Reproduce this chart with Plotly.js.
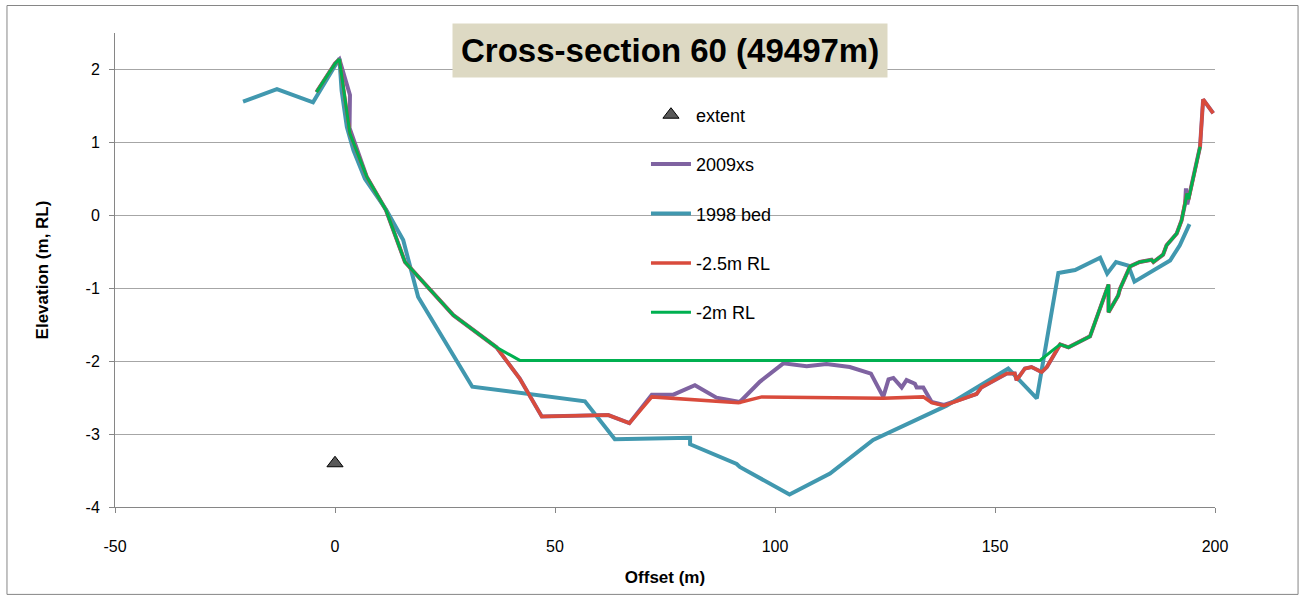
<!DOCTYPE html>
<html>
<head>
<meta charset="utf-8">
<script src="https://cdn.plot.ly/plotly-3.0.1.min.js"></script>
<style>html,body{margin:0;padding:0;background:#fff;}#chart{width:1305px;height:597px;}</style>
</head>
<body>
<div id="chart"></div>
<script>
// ---- data ----
const extentX = [0];
const extentY = [-3.40];

const xs2009X = [-4.2, 0, 1, 3.4, 3.3, 7.2, 11.6, 15.9, 26.9, 36.7, 42, 47, 62.1, 66.9, 72, 76.9, 81.8, 86.7, 92, 96.6, 101.9, 107.2, 111.7, 117, 121.8, 124.6, 125.8, 126.9, 128.8, 129.9, 131.8, 132.2, 133.7, 135.6, 138.4, 145.8, 146.9, 151.1, 152.7, 154.5, 154.9, 156.8, 158.3, 160.6, 161.8, 164.8, 166.7, 171.6, 175.8, 175.8, 178, 178.4, 180.7, 182.9, 185.6, 186, 188.2, 189, 191.3, 192.4, 193.2, 193.4, 193.7, 196.6, 197.3, 199.6];
const xs2009Y = [1.69, 2.08, 2.14, 1.65, 1.2, 0.53, 0.07, -0.64, -1.37, -1.81, -2.24, -2.76, -2.74, -2.85, -2.46, -2.46, -2.33, -2.50, -2.56, -2.28, -2.03, -2.07, -2.04, -2.08, -2.17, -2.49, -2.25, -2.23, -2.36, -2.26, -2.31, -2.36, -2.36, -2.56, -2.60, -2.45, -2.36, -2.22, -2.17, -2.17, -2.26, -2.10, -2.08, -2.15, -2.08, -1.77, -1.81, -1.66, -0.95, -1.33, -1.10, -1.01, -0.70, -0.64, -0.61, -0.64, -0.54, -0.41, -0.25, -0.07, 0.16, 0.37, 0.15, 0.94, 1.59, 1.40];

const bed1998X = [-20.9, -13.2, -5.0, 1, 1.5, 2.7, 4.2, 6.8, 11.7, 15.5, 18.9, 31.2, 56.8, 63.6, 80.7, 80.7, 91.3, 92, 103.3, 112.5, 122.3, 134.5, 139, 153, 155.3, 159.5, 164.4, 168.2, 173.9, 175.5, 177.5, 180.3, 181.7, 189.8, 192, 194.2];
const bed1998Y = [1.56, 1.73, 1.55, 2.15, 1.71, 1.21, 0.89, 0.50, 0.07, -0.34, -1.12, -2.35, -2.55, -3.07, -3.05, -3.14, -3.41, -3.45, -3.83, -3.54, -3.08, -2.74, -2.61, -2.10, -2.25, -2.51, -0.79, -0.75, -0.58, -0.80, -0.64, -0.69, -0.91, -0.62, -0.41, -0.12];

const rl25X = [-4.2, 0, 1, 3.4, 7.2, 11.6, 15.9, 26.9, 36.7, 42, 47, 62.1, 66.9, 72, 91.7, 97, 124.6, 133.7, 135.6, 138.4, 145.8, 146.9, 151.1, 152.7, 154.5, 154.9, 156.8, 158.3, 160.6, 161.8, 164.8, 166.7, 171.6, 175.8, 175.8, 178, 178.4, 180.7, 182.9, 185.6, 186, 188.2, 189, 191.3, 192.4, 193.2, 193.6, 194.0, 196.6, 197.3, 199.6];
const rl25Y = [1.69, 2.08, 2.14, 1.12, 0.53, 0.07, -0.64, -1.37, -1.81, -2.24, -2.76, -2.74, -2.85, -2.49, -2.57, -2.49, -2.51, -2.49, -2.57, -2.61, -2.45, -2.36, -2.22, -2.17, -2.17, -2.26, -2.10, -2.08, -2.15, -2.08, -1.77, -1.81, -1.66, -0.95, -1.33, -1.10, -1.01, -0.70, -0.64, -0.61, -0.64, -0.54, -0.41, -0.25, -0.07, 0.16, 0.30, 0.22, 0.94, 1.59, 1.40];

const rl2X = [-4.2, 0, 1, 3.4, 7.2, 11.6, 15.9, 26.9, 36.7, 42, 160.2, 164.8, 166.7, 171.6, 175.8, 175.8, 178, 178.4, 180.7, 182.9, 185.6, 186, 188.2, 189, 191.3, 192.4, 193.2, 193.6, 194.0, 196.6];
const rl2Y = [1.69, 2.08, 2.14, 1.12, 0.53, 0.07, -0.64, -1.37, -1.81, -1.99, -1.99, -1.77, -1.81, -1.66, -0.95, -1.33, -1.10, -1.01, -0.70, -0.64, -0.61, -0.64, -0.54, -0.41, -0.25, -0.07, 0.16, 0.30, 0.22, 0.94];

const xTicks = [-50, 0, 50, 100, 150, 200];
const yTicks = [-4, -3, -2, -1, 0, 1, 2];

const FONT = "Liberation Sans, Arial, sans-serif";

const traces = [
  {x: extentX, y: extentY, name: "extent", mode: "markers", type: "scatter", legendgroup: "a",
   marker: {symbol: "triangle-up", size: 14, color: "#595959", line: {color: "#000", width: 1}}},
  {x: xs2009X, y: xs2009Y, name: "2009xs", mode: "lines", type: "scatter", legendgroup: "b",
   line: {color: "#7F63A1", width: 4}},
  {x: bed1998X, y: bed1998Y, name: "1998 bed", mode: "lines", type: "scatter", legendgroup: "c",
   line: {color: "#4198AF", width: 4}},
  {x: rl25X, y: rl25Y, name: "-2.5m RL", mode: "lines", type: "scatter", legendgroup: "d",
   line: {color: "#D94B3C", width: 3.5}},
  {x: rl2X, y: rl2Y, name: "-2m RL", mode: "lines", type: "scatter", legendgroup: "e",
   line: {color: "#00B050", width: 3}}
];

const layout = {
  width: 1305, height: 597,
  margin: {l: 115, r: 90, t: 33, b: 90, pad: 0},
  paper_bgcolor: "#ffffff", plot_bgcolor: "#ffffff",
  font: {family: FONT, size: 15, color: "#000"},
  showlegend: true,
  legend: {x: 0.4827, y: 0.866, xanchor: "left", yanchor: "top", bgcolor: "rgba(0,0,0,0)",
           font: {family: FONT, size: 18, color: "#000"}, tracegroupgap: 23, itemwidth: 40},
  xaxis: {range: [-50, 200], tickvals: xTicks, ticktext: xTicks.map(String), showgrid: false, zeroline: false,
          showline: true, linecolor: "#868686", linewidth: 1, ticks: "outside", ticklen: 5, tickcolor: "#868686",
          ticklabelstandoff: 20,
          tickfont: {family: FONT, size: 16, color: "#000"},
          title: {text: "<b>Offset (m)</b>", font: {family: FONT, size: 17, color: "#000"}, standoff: 16}},
  yaxis: {range: [-4, 2.5], tickvals: yTicks, ticktext: yTicks.map(String), showgrid: true, gridcolor: "#A6A6A6", gridwidth: 1,
          zeroline: false, showline: true, linecolor: "#868686", linewidth: 1, ticks: "outside", ticklen: 5, tickcolor: "#868686",
          ticklabelstandoff: 6,
          tickfont: {family: FONT, size: 16, color: "#000"},
          title: {text: "<b>Elevation (m, RL)</b>", font: {family: FONT, size: 17, color: "#000"}, standoff: 32}},
  annotations: [
    {xref: "paper", yref: "paper", x: 0.5045, y: 0.9635, xanchor: "center", yanchor: "middle", showarrow: false,
     text: "<b>Cross-section 60 (49497m)</b>", font: {family: FONT, size: 33, color: "#000"},
     bgcolor: "#DDD9C3", borderpad: 8}
  ],
  shapes: [
    {type: "rect", xref: "paper", yref: "paper", x0: -0.0982, x1: 1.0755, y0: -0.1844, y1: 1.058,
     line: {color: "#868686", width: 1}, fillcolor: "rgba(0,0,0,0)", layer: "below"}
  ]
};

Plotly.newPlot("chart", traces, layout, {displayModeBar: false, responsive: false});
</script>
</body>
</html>
